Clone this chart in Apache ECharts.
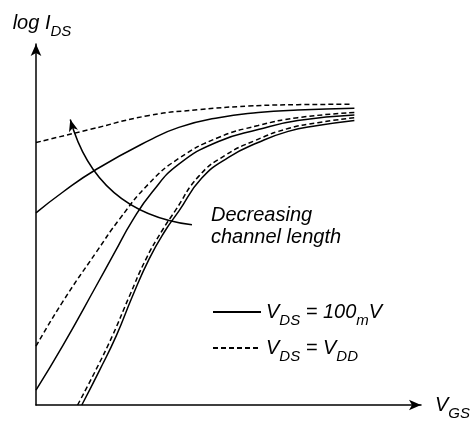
<!DOCTYPE html>
<html><head><meta charset="utf-8">
<script src="https://cdn.jsdelivr.net/npm/echarts@6/dist/echarts.min.js"></script>
<style>html,body{margin:0;padding:0;background:#fff}#c{width:473px;height:421px}</style>
</head><body><div id="c"></div>
<script>
// Series names (legend)
const nameLow = 'VDS = 100mV';
const nameHigh = 'VDS = VDD';
// [VGS, log IDS] in arbitrary units (0..100)
const shortVdd  = [[0,72.7],[13.9,76.3],[29.4,80.2],[42.3,81.8],[55.2,82.8],[68,83.2],[82.2,83.3]];
const short100m = [[0,53.2],[7,59.0],[15.7,65.3],[29.4,73.3],[37.1,76.9],[47.4,79.6],[57.7,81.0],[68,81.7],[82.7,82.2]];
const midVdd    = [[0,16.3],[7,28.7],[15.7,42.4],[21.7,51.5],[29.4,61.4],[37.1,68.3],[47.4,74.1],[57.7,77.4],[68,79.6],[82.7,81.0]];
const mid100m   = [[0,4.1],[7,16.5],[15.7,33.1],[20.4,42.2],[25,51.0],[30.2,59.0],[37.1,66.7],[47.4,73.0],[57.7,76.3],[68,78.8],[82.7,80.3]];
const longVdd   = [[10.8,0],[15.5,9.6],[19.9,19.3],[24.2,30.0],[28.6,40.5],[32.7,48.2],[36.1,53.7],[42.3,63.4],[49.2,69.2],[57,73.3],[65.5,76.6],[73.2,78.2],[82.7,79.6]];
const long100m  = [[11.9,0],[16.5,9.6],[20.9,19.3],[25,30.0],[29.4,40.5],[33.5,48.2],[37.1,53.7],[43,62.8],[50,68.6],[57.7,72.7],[65.5,75.8],[73.2,77.4],[82.7,78.8]];
// annotation arrow (from -> to), in data units
const arrowFrom = [40.5,49.9];
const arrowTo   = [8.9,79.1];

const FONT = 'Liberation Sans';
const rich = {
  m: {fontSize:20, lineHeight:20, fontStyle:'italic', fontFamily:FONT, color:'#000'},
  s: {fontSize:15, lineHeight:15, fontStyle:'italic', fontFamily:FONT, color:'#000', padding:[17,0,0,0]}
};
const legendRich = {};
legendRich[nameLow] = '{m|V}{s|DS}{m| = 100}{s|m}{m|V}';
legendRich[nameHigh] = '{m|V}{s|DS}{m| = V}{s|DD}';

function curve(name, data, dashed) {
  return {
    type:'line', name:name, data:data, symbol:'none', smooth:0.5,
    itemStyle:{color:'#000'},
    lineStyle:{color:'#000', width:1.5, type: dashed ? [5,3] : 'solid'},
    silent:true
  };
}

const chart = echarts.init(document.getElementById('c'), null, {renderer:'canvas'});
chart.setOption({
  animation:false,
  backgroundColor:'#fff',
  grid:{left:36, right:49, top:44, bottom:14},
  xAxis:{
    type:'value', min:0, max:100,
    axisLine:{show:true, lineStyle:{color:'#000', width:1.5}, symbol:['none','arrow'], symbolSize:[8,12]},
    axisTick:{show:false}, axisLabel:{show:false}, splitLine:{show:false},
    name:'{m|V}{s|GS}', nameLocation:'end', nameGap:14,
    nameTextStyle:{rich:rich}
  },
  yAxis:{
    type:'value', min:0, max:100,
    axisLine:{show:true, lineStyle:{color:'#000', width:1.5}, symbol:['none','arrow'], symbolSize:[8,12]},
    axisTick:{show:false}, axisLabel:{show:false}, splitLine:{show:false},
    name:'{m|log I}{s|DS}', nameLocation:'end', nameGap:11,
    nameTextStyle:{rich:rich, padding:[0,0,0,12]}
  },
  legend:{
    data:[nameLow, nameHigh], orient:'vertical', left:212, top:296, padding:0,
    itemWidth:48, itemHeight:14, itemGap:4, selectedMode:false,
    itemStyle:{color:'transparent', borderWidth:0, opacity:0},
    formatter:function(n){return legendRich[n];},
    textStyle:{rich:rich}
  },
  graphic:[{
    type:'text', left:211, top:204, silent:true,
    style:{text:'Decreasing\nchannel length', font:'italic 20px "Liberation Sans"', fill:'#000', lineHeight:22}
  }],
  series:[
    curve(nameHigh, shortVdd, true),
    curve(nameLow, short100m, false),
    curve(nameHigh, midVdd, true),
    curve(nameLow, mid100m, false),
    curve(nameHigh, longVdd, true),
    curve(nameLow, long100m, false),
    {
      type:'lines', name:'arrow', coordinateSystem:'cartesian2d', silent:true,
      symbol:['none','arrow'], symbolSize:[1,[7,12]],
      lineStyle:{color:'#000', width:1.5, curveness:0.33, opacity:1},
      data:[{coords:[arrowFrom, arrowTo]}]
    }
  ]
});
</script></body></html>
